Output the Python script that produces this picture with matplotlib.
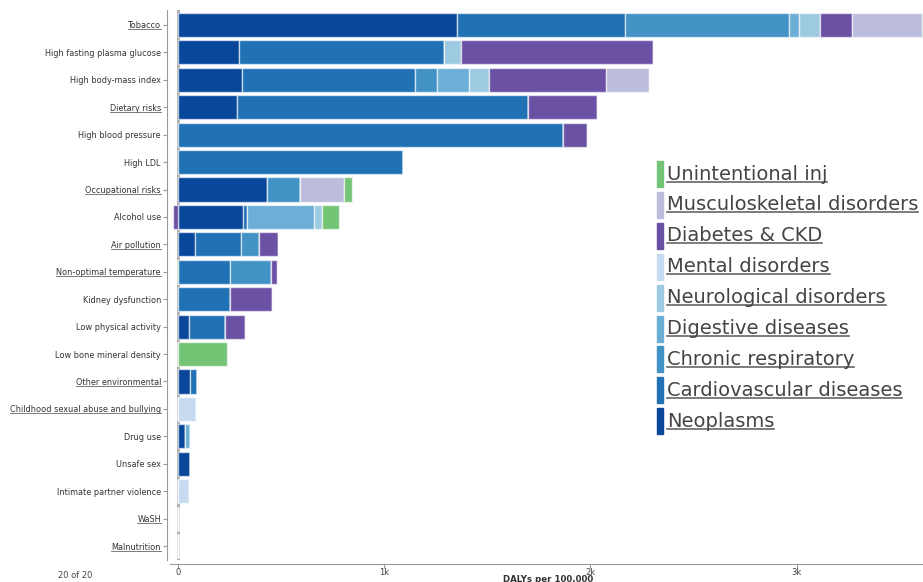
import numpy as np
import matplotlib.pyplot as plt
from matplotlib.lines import Line2D
from matplotlib.patches import Rectangle

# === Risk factors (top to bottom) ===
risks = [
    "Tobacco", "High fasting plasma glucose", "High body-mass index", "Dietary risks",
    "High blood pressure", "High LDL", "Occupational risks", "Alcohol use",
    "Air pollution", "Non-optimal temperature", "Kidney dysfunction",
    "Low physical activity", "Low bone mineral density", "Other environmental",
    "Childhood sexual abuse and bullying", "Drug use", "Unsafe sex",
    "Intimate partner violence", "WaSH", "Malnutrition",
]
underlined = {"Tobacco", "Dietary risks", "Occupational risks", "Air pollution",
              "Non-optimal temperature", "Other environmental",
              "Childhood sexual abuse and bullying", "WaSH", "Malnutrition"}

# === DALYs per 100,000 by cause (stacking order, values per risk) ===
neoplasms      = [1353, 295, 308, 282, 0, 0, 430, 312, 79, 0, 0, 51, 0, 54, 0, 32, 57, 0, 0, 0]
cardiovascular = [814, 995, 840, 1413, 1868, 1091, 0, 21, 226, 249, 249, 173, 0, 34, 0, 0, 0, 0, 0, 0]
chronic_resp   = [798, 0, 107, 0, 0, 0, 159, 0, 87, 199, 0, 0, 0, 0, 0, 0, 0, 0, 0, 0]
digestive      = [47, 0, 155, 0, 0, 0, 0, 324, 0, 0, 0, 0, 0, 0, 0, 26, 0, 0, 0, 0]
neurological   = [102, 80, 99, 0, 0, 0, 0, 39, 0, 0, 0, 0, 0, 0, 0, 0, 0, 0, 0, 0]
mental         = [0, 0, 0, 0, 0, 0, 0, 0, 0, 0, 0, 0, 0, 0, 85, 0, 0, 51, 0, 0]
diabetes_ckd   = [154, 935, 568, 338, 114, 0, 0, -27, 89, 31, 205, 99, 0, 0, 0, 0, 0, 0, 0, 0]
musculo        = [340, 0, 206, 0, 0, 0, 214, 0, 0, 0, 0, 0, 0, 0, 0, 0, 0, 0, 0, 0]
unintentional  = [25, 0, 0, 0, 0, 0, 39, 81, 0, -6, 0, 0, 237, 0, 0, 0, 0, 0, 0, 0]

causes = ["Neoplasms", "Cardiovascular diseases", "Chronic respiratory", "Digestive diseases",
          "Neurological disorders", "Mental disorders", "Diabetes & CKD",
          "Musculoskeletal disorders", "Unintentional inj"]
series = [neoplasms, cardiovascular, chronic_resp, digestive, neurological,
          mental, diabetes_ckd, musculo, unintentional]
colors = ["#08479a", "#2171b5", "#4292c6", "#6baed6", "#9ecae1",
          "#c6dbef", "#6a51a3", "#bcbddc", "#74c476"]

fig = plt.figure(figsize=(9.23, 5.82), dpi=100)
W, H = 923, 582
ax = fig.add_axes([170 / W, 1 - 560 / H, 1 - 170 / W, 550 / H])

y = np.arange(len(risks))
pos_left = np.zeros(len(risks))
neg_left = np.zeros(len(risks))
for vals, col in zip(series, colors):
    v = np.array(vals, dtype=float)
    left = np.where(v >= 0, pos_left, neg_left)
    ax.barh(y, v, left=left, height=0.88, color=col,
            edgecolor=(1, 1, 1, 0.6), linewidth=1)
    pos_left += np.where(v > 0, v, 0)
    neg_left += np.where(v < 0, v, 0)

ax.axvline(0, color="#aaaaaa", lw=2, zorder=0)

ax.set_xlim(-41, 3614)
ax.set_ylim(19.51, -0.547)
ax.tick_params(axis="y", length=3, color="#999999", pad=1.5,
               labelsize=5.9, labelcolor="#333333")
ax.tick_params(axis="x", length=3, color="#999999", pad=0,
               labelsize=6, labelcolor="#444444")
ax.set_yticks(y)
ax.set_yticklabels(risks)
ax.set_xticks([0, 1000, 2000, 3000])
ax.set_xticklabels(["0", "1k", "2k", "3k"])
for s in ["top", "right"]:
    ax.spines[s].set_visible(False)
ax.spines["left"].set_color("#999999")
ax.spines["bottom"].set_color("#999999")
ax.spines["left"].set_position(("outward", 2))
ax.spines["bottom"].set_position(("outward", 3))

fig.text(548 / W, 1 - 575 / H, "DALYs per 100,000", ha="center", va="top",
         fontsize=6.2, fontweight="bold", color="#333333")
fig.text(75 / W, 1 - 576 / H, "20 of 20", ha="center", va="center",
         fontsize=6, color="#444444")

# === Legend (top item is last stacked cause) ===
legend_texts = []
for i, (name, col) in enumerate(zip(causes[::-1], colors[::-1])):
    cy = 174 + i * 30.9
    fig.patches.append(Rectangle((657 / W, 1 - (cy + 13) / H), 6 / W, 26 / H,
                                 transform=fig.transFigure, color=col))
    t = fig.text(667 / W, 1 - cy / H, name, ha="left", va="center",
                 fontsize=14, color="#444444")
    legend_texts.append(t)

# underline the linked labels
fig.canvas.draw()
renderer = fig.canvas.get_renderer()
to_fig = fig.transFigure.inverted()
under = [t for t in ax.get_yticklabels() if t.get_text() in underlined] + legend_texts
for t in under:
    bb = t.get_window_extent(renderer)
    off = 2 if t in legend_texts else 1
    (x0, y0), (x1, _) = to_fig.transform([(bb.x0, bb.y0 + off), (bb.x1, bb.y0 + off)])
    fig.lines.append(Line2D([x0, x1], [y0, y0], transform=fig.transFigure,
                            color="#666666", lw=1.2 if t in legend_texts else 0.6))

fig.savefig("out.png", dpi=100)
